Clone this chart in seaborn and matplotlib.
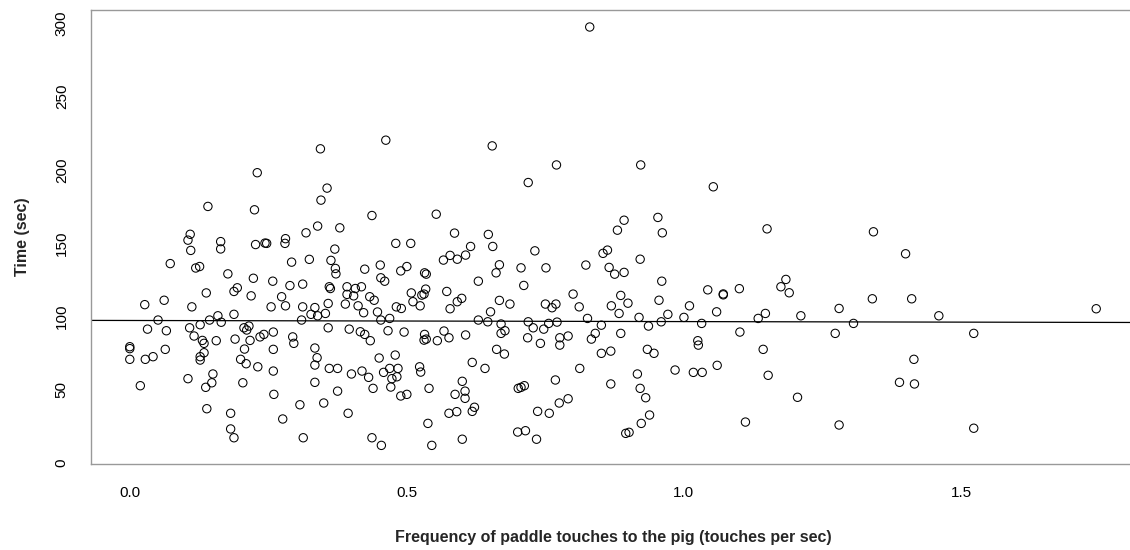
import numpy as np
import pandas as pd
import matplotlib
matplotlib.use("Agg")
import matplotlib.pyplot as plt
import seaborn as sns

# Frequency of paddle touches (touches per sec) and time (sec)
freq = [
    0.230, 0.141, 0.225, 0.109, 0.105, 0.110, 0.164, 0.164, 0.227, 0.244, 0.073, 0.119, 0.126, 0.177, 0.223,
    0.138, 0.188, 0.194, 0.219, 0.027, 0.062, 0.112,
    0.051, 0.159, 0.188, 0.144, 0.165, 0.127, 0.108, 0.032, 0.066, 0.116, 0.131, 0.134, 0.156, 0.190, 0.206,
    0.215, 0.211, 0.217, 0.235, 0.207, 0.0, 0.0, 0.0, 0.028, 0.042, 0.064, 0.134, 0.127, 0.127, 0.200, 0.210,
    0.231, 0.150, 0.148, 0.137, 0.105, 0.019, 0.204, 0.139, 0.182, 0.182, 0.188,
    0.344, 0.356, 0.345, 0.437, 0.339, 0.318, 0.379, 0.281, 0.280, 0.247, 0.370, 0.480, 0.507, 0.292, 0.324,
    0.363, 0.371, 0.372, 0.424, 0.452, 0.453, 0.460, 0.489, 0.500, 0.532, 0.535, 0.258, 0.289, 0.312, 0.360,
    0.362, 0.392, 0.407, 0.418, 0.392, 0.404, 0.433, 0.441, 0.508, 0.527, 0.531, 0.534, 0.511, 0.524, 0.274,
    0.255, 0.281, 0.312, 0.334, 0.358, 0.389, 0.412, 0.481, 0.490,
    0.327, 0.339, 0.353, 0.310, 0.422, 0.447, 0.453, 0.469, 0.358, 0.396, 0.416, 0.424, 0.434, 0.466, 0.495,
    0.532, 0.531, 0.535, 0.242, 0.259, 0.294, 0.296, 0.259, 0.334, 0.338, 0.334, 0.259, 0.360, 0.375, 0.400,
    0.419, 0.431, 0.450, 0.479, 0.458, 0.469, 0.484, 0.473, 0.482, 0.523, 0.525, 0.439, 0.471, 0.489, 0.500,
    0.540, 0.334, 0.375, 0.260, 0.307, 0.350, 0.394, 0.276, 0.313, 0.437, 0.454, 0.538, 0.545,
    0.654, 0.770, 0.719, 0.553, 0.586, 0.647, 0.615, 0.655, 0.731, 0.578, 0.566, 0.591, 0.606, 0.667, 0.661,
    0.706, 0.751, 0.823, 0.629, 0.711, 0.572, 0.599, 0.591, 0.667, 0.686, 0.800, 0.750, 0.769, 0.762, 0.811,
    0.578,
    0.651, 0.826, 0.851, 0.629, 0.646, 0.670, 0.677, 0.670, 0.719, 0.728, 0.747, 0.756, 0.771, 0.718, 0.741,
    0.776, 0.776, 0.791, 0.833, 0.840, 0.851, 0.567, 0.576, 0.555, 0.606, 0.662, 0.676, 0.618, 0.641, 0.812,
    0.768, 0.600, 0.605, 0.587, 0.605, 0.701, 0.706, 0.712, 0.791, 0.775, 0.622, 0.618, 0.576, 0.590, 0.736,
    0.757, 0.700, 0.714, 0.734, 0.600,
    0.922, 1.053, 0.892, 0.953, 0.880, 0.961, 1.150, 0.862, 0.854, 0.921, 0.865, 0.875, 0.892, 0.960, 1.043,
    1.071, 1.071, 1.100, 0.886, 0.899, 0.869, 0.955, 1.010,
    1.059, 1.147, 1.134, 0.883, 0.919, 0.971, 0.959, 1.000, 0.936, 1.032, 0.886, 1.101, 1.025, 1.026, 0.934,
    0.946, 0.868, 1.143, 1.060, 0.984, 1.017, 1.033, 0.916, 1.152, 0.868, 0.921, 0.931, 0.938, 0.923, 0.895,
    0.901, 1.111,
    1.342, 1.400, 1.184, 1.175, 1.190, 1.340, 1.411, 1.280,
    1.211, 1.306, 1.460, 1.273, 1.415, 1.389, 1.416, 1.205, 1.280,
    1.744, 1.523, 1.523,
    0.830, 0.462,
]
time_sec = [
    198, 175, 172.7, 156, 152, 145, 151, 146, 149, 150, 136, 133, 134, 129, 126,
    116, 117, 119.5, 114, 108, 111, 106.5,
    97.5, 100.4, 101.4, 97.5, 96, 94.3, 92.2, 91.3, 90.2, 86.6, 83.6, 81.6, 83.4, 84.5, 92.2,
    93.4, 90.7, 83.6, 86, 77.7, 79.3, 78, 70.7, 70.7, 72.5, 77.5, 75.2, 72.5, 70.2, 70.7, 67.7,
    65.6, 60.7, 54.7, 51.6, 57.5, 52.7, 54.7, 37, 33.9, 23.2, 17.2,
    214.3, 187.5, 179.3, 168.8, 161.6, 157, 160.4, 153, 149.8, 149.8, 145.9, 149.8, 149.8, 137, 138.9,
    138.2, 132.7, 129, 132.2, 135, 126.3, 124, 131, 134, 129.7, 128.8, 124, 121, 122, 120.2,
    119, 120.2, 119, 120.2, 115, 114, 113.4, 111, 116, 114.5, 115.2, 118.6, 110, 107.2, 113.4,
    106.5, 107.2, 106.5, 106, 108.8, 108.4, 107.2, 106.5, 105.4,
    101.4, 100.4, 102, 97.5, 102.5, 103, 97.5, 98.6, 92.2, 91.3, 89.5, 87.7, 83.4, 90.2, 89.3,
    87.7, 83.8, 84.5, 87.7, 89.3, 86, 81.6, 77.5, 78.4, 71.8, 66.8, 62.7, 64.5, 64.5, 60.7,
    62.7, 58.4, 71.6, 73.6, 61.8, 64.5, 64.5, 57.5, 58.8, 65.6, 62, 50.9, 51.8, 45.7, 46.8,
    50.9, 55, 49, 46.8, 39.7, 40.9, 33.9, 30, 17.2, 17.2, 12, 27, 12,
    216.3, 203.3, 191.3, 169.7, 156.8, 155.9, 147.7, 147.7, 144.7, 141.6, 138.4, 139, 141.8, 135.2, 129.7,
    133.1, 133.1, 135, 124, 121.1, 117, 112.3, 110, 110.9, 108.4, 115.2, 108.4, 108.4, 105.9, 106.5,
    105.2,
    103.1, 98.6, 94, 97.5, 96.3, 94.8, 90.2, 88.4, 96.3, 92.2, 91.3, 95.2, 96.1, 85.4, 81.6,
    85.4, 80.4, 86.6, 84.5, 88.4, 74.8, 90, 85.4, 83.4, 87.3, 77.5, 74.3, 68.6, 64.5, 64.5,
    56.6, 55.7, 49, 46.8, 44.1, 50.9, 51.6, 52.7, 43.8, 40.9, 38, 35.2, 33.9, 35, 35.2,
    33.9, 21.1, 22, 16.2, 16.2,
    203.3, 188.4, 165.6, 167.5, 158.8, 157, 159.7, 145.2, 143, 139, 133.4, 128.8, 130, 124, 118.1,
    114.7, 115.3, 118.9, 114.3, 109, 107.2, 111, 107.2,
    103.1, 102, 98.6, 102, 99.3, 101.4, 96.3, 99.3, 93.4, 95.2, 88.4, 89.3, 83.4, 80.4, 77.5,
    74.8, 76.3, 77.5, 66.6, 63.4, 61.8, 61.8, 60.7, 59.8, 53.9, 50.9, 44.5, 32.7, 27, 20.2,
    20.9, 27.9,
    157.7, 142.7, 125.2, 120.2, 116.1, 112, 112, 105.4,
    100.4, 95.2, 100.4, 88.4, 70.7, 55, 53.9, 44.8, 25.9,
    105.2, 88.4, 23.7,
    297.4, 220.2,
]

# fitted regression line shown in the reference (intercept, slope)
fit_intercept = 97.2
fit_slope = -0.75

x_ticks = [0.0, 0.5, 1.0, 1.5]
x_tick_labels = ["0.0", "0.5", "1.0", "1.5"]
y_ticks = [0, 50, 100, 150, 200, 250, 300]
x_label = "Frequency of paddle touches to the pig (touches per sec)"
y_label = "Time (sec)"

df = pd.DataFrame({"freq": freq, "time": time_sec})

sns.set_style("white")
plt.rcParams["font.family"] = ["Liberation Sans", "DejaVu Sans"]

fig = plt.figure(figsize=(11.3, 5.5), dpi=100)
ax = fig.add_axes([91 / 1130, (550 - 463.7) / 550, 1044 / 1130, (463.7 - 10) / 550])

sns.scatterplot(data=df, x="freq", y="time", ax=ax, marker="o", s=36,
                facecolor="none", edgecolor="black", linewidth=0.75, zorder=3)

ax.axline((0, fit_intercept), slope=fit_slope, color="black", linewidth=0.9, zorder=2)

ax.set_xlim(-0.07, 1.814)
ax.set_ylim(-0.5, 309)
ax.set_xticks(x_ticks)
ax.set_xticklabels(x_tick_labels)
ax.set_yticks(y_ticks)
ax.set_yticklabels([str(v) for v in y_ticks], rotation=90, va="center")

for side in ["top", "bottom", "left", "right"]:
    ax.spines[side].set_color("#999999")
    ax.spines[side].set_linewidth(1.0)

ax.tick_params(axis="both", which="both", direction="out", length=6, width=0.9,
               color="black", labelsize=11, labelcolor="black")
ax.tick_params(axis="x", pad=10)
ax.tick_params(axis="y", pad=10)

ax.set_xlabel(x_label, fontsize=11.5, fontweight="bold", labelpad=22)
ax.set_ylabel(y_label, fontsize=11.5, fontweight="bold", labelpad=18)

fig.savefig("out.png", dpi=100)
